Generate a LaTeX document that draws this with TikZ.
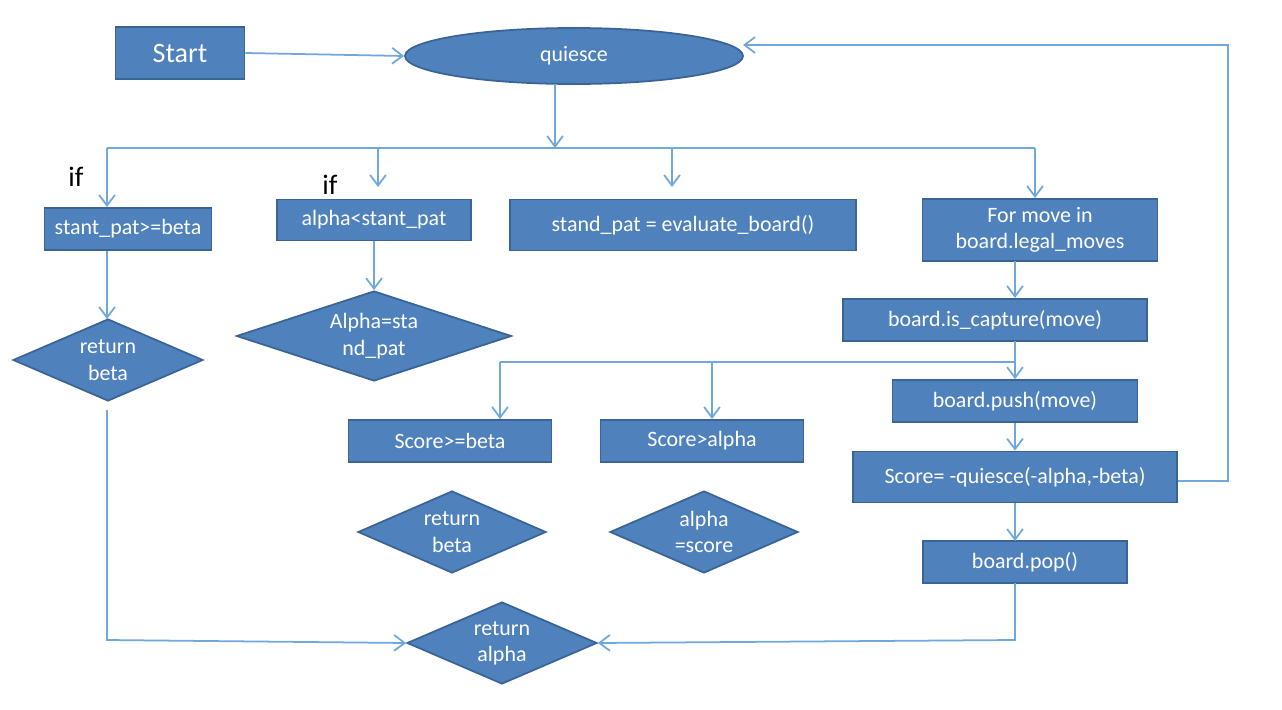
\documentclass[tikz,border=0pt]{standalone}
\usepackage{fontspec}
\setmainfont{Carlito}
\usetikzlibrary{shapes.geometric,arrows.meta}
\definecolor{bfill}{HTML}{4F81BD}
\definecolor{bdraw}{HTML}{3A6496}
\definecolor{lcol}{HTML}{6FA8DC}
\begin{document}
\begin{tikzpicture}[x=0.02cm,y=-0.02cm,
  box/.style={draw=bdraw,line width=1pt,fill=bfill,text=white,font=\fontsize{12.5}{15}\selectfont,align=center,inner sep=0pt},
  dia/.style={diamond,aspect=2.3,draw=bdraw,line width=1pt,fill=bfill,text=white,font=\fontsize{12.5}{15}\selectfont,align=center,inner sep=0pt},
  ln/.style={draw=lcol,line width=1pt},
  ar/.style={ln,-{Straight Barb[length=6pt,width=9pt]}}]
\useasboundingbox (0,0) rectangle (1282,710);
\node[box,minimum width=129*0.02cm,minimum height=52*0.02cm,font=\fontsize{16}{19}\selectfont] (start) at (180,53) {Start};
\node[ellipse,draw=bdraw,line width=1pt,fill=bfill,text=white,font=\fontsize{12.5}{15}\selectfont,minimum width=338*0.02cm,minimum height=56*0.02cm,inner sep=0pt] (q) at (574,56) {quiesce};
\node[box,minimum width=167*0.02cm,minimum height=42*0.02cm] (sp) at (128,229) {stant\_pat>=beta};
\node[box,minimum width=194*0.02cm,minimum height=41*0.02cm] (al) at (374,220) {alpha<stant\_pat};
\node[box,minimum width=346*0.02cm,minimum height=51*0.02cm] (ev) at (683,225) {stand\_pat = evaluate\_board()};
\node[box,minimum width=235*0.02cm,minimum height=62*0.02cm] (fm) at (1040,230) {For move in\\board.legal\_moves};
\node[box,minimum width=304*0.02cm,minimum height=42*0.02cm] (cap) at (995,320) {board.is\_capture(move)};
\node[box,minimum width=245*0.02cm,minimum height=42*0.02cm] (push) at (1015,401) {board.push(move)};
\node[box,minimum width=324*0.02cm,minimum height=51*0.02cm] (sc) at (1015,477) {Score= -quiesce(-alpha,-beta)};
\node[box,minimum width=204*0.02cm,minimum height=42*0.02cm] (pop) at (1025,562) {board.pop()};
\node[box,minimum width=203*0.02cm,minimum height=42*0.02cm] (sb) at (450,441) {Score>=beta};
\node[box,minimum width=203*0.02cm,minimum height=42*0.02cm] (sa) at (702,441) {Score>alpha};
\node[dia,minimum width=190*0.02cm,minimum height=82*0.02cm] (rb1) at (108,360) {return\\beta};
\node[dia,minimum width=275*0.02cm,minimum height=90*0.02cm] (as) at (374,336) {Alpha=sta\\nd\_pat};
\node[dia,minimum width=188*0.02cm,minimum height=82*0.02cm] (rb2) at (452,532) {return\\beta};
\node[dia,minimum width=188*0.02cm,minimum height=82*0.02cm] (asc) at (704,532) {alpha\\=score};
\node[dia,minimum width=190*0.02cm,minimum height=82*0.02cm] (ra) at (502,643) {return\\alpha};
\node[font=\fontsize{16}{19}\selectfont] (if1) at (76,177) {if};
\node[font=\fontsize{16}{19}\selectfont] (if2) at (330,185) {if};
\coordinate (t) at (555,148);
\draw[ar] (start.east) -- (q.west);
\draw[ar] (555,84) -- (t);
\draw[ln] (107,148) -- (1035,148);
\draw[ar] (107,148) -- (107,207);
\draw[ar] (378,148) -- (378,187);
\draw[ar] (672,148) -- (672,187);
\draw[ar] (1035,148) -- (1035,198);
\draw[ar] (sp.south -| 107,0) -- (107,319);
\draw[ar] (al.south) -- (as.north);
\draw[ar] (1015,261) -- (1015,298);
\draw[ar] (1015,341) -- (push.north);
\draw[ln] (1015,362) -- (500,362);
\draw[ar] (500,362) -- (500,419);
\draw[ar] (712,362) -- (712,419);
\draw[ar] (push.south) -- (sc.north);
\draw[ar] (sc.south) -- (1015,541);
\draw[ar] (sc.east |- 0,481) -- (1228,481) -- (1228,45) -- (743,45);
\draw[ar] (107,410) -- (107,640) -- (ra.west);
\draw[ar] (1015,583) -- (1015,640) -- (ra.east);
\end{tikzpicture}
\end{document}
